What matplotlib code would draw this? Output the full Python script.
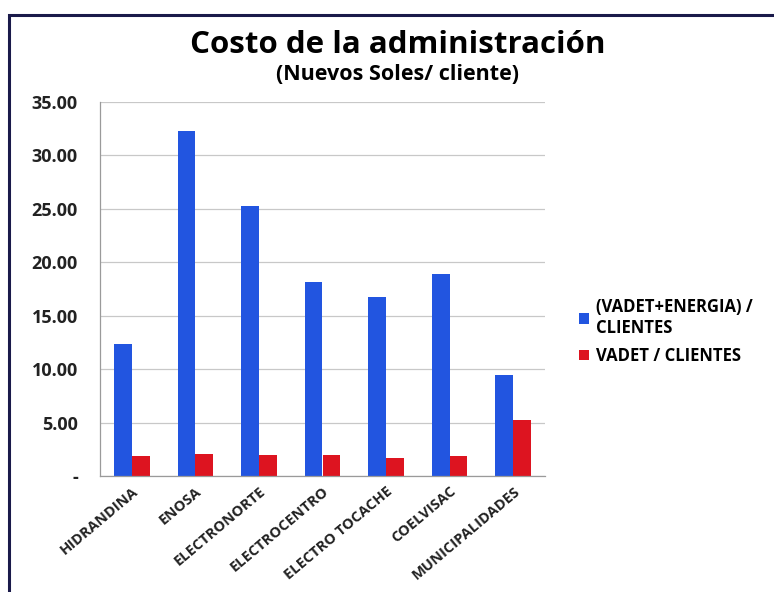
import numpy as np
import matplotlib
matplotlib.use("Agg")
from matplotlib import pyplot as plt
import matplotlib.patches as patches

empresas = ['HIDRANDINA', 'ENOSA', 'ELECTRONORTE', 'ELECTROCENTRO',
            'ELECTRO TOCACHE', 'COELVISAC', 'MUNICIPALIDADES']
vadet_energia = [12.35, 32.3, 25.3, 18.15, 16.75, 18.9, 9.45]
vadet = [1.85, 2.1, 2.0, 2.0, 1.7, 1.85, 5.2]
series_names = ['(VADET+ENERGIA) /\nCLIENTES', 'VADET / CLIENTES']
yticks = [0, 5, 10, 15, 20, 25, 30, 35]

plt.rcParams['font.family'] = ['Open Sans', 'DejaVu Sans']

fig = plt.figure(figsize=(7.74, 5.92), dpi=100)
ax = fig.add_axes([100/774, 1 - 476/592, 445/774, 374/592])

x = np.arange(len(empresas))
w = 0.28
b1 = ax.bar(x - w/2, vadet_energia, w, color='#2255e0', label=series_names[0])
b2 = ax.bar(x + w/2, vadet, w, color='#dd1420', label=series_names[1])

ax.set_xlim(-0.5, len(empresas) - 0.5)
ax.set_ylim(0, 35)
ax.set_yticks(yticks)
ax.set_yticklabels(['-'] + ['%.2f' % v for v in yticks[1:]],
                   fontsize=13, fontweight='bold', color='#222222')
ax.set_xticks(x)
ax.set_xticklabels(empresas, rotation=40, ha='right', rotation_mode='anchor',
                   fontsize=10.5, fontweight='bold', color='#222222')
ax.tick_params(axis='y', length=0, pad=16)
ax.tick_params(axis='x', length=0, pad=6)
ax.grid(axis='y', color='#c8c8c8', linewidth=0.9)
ax.set_axisbelow(True)
for s in ['top', 'right']:
    ax.spines[s].set_visible(False)
for s in ['left', 'bottom']:
    ax.spines[s].set_color('#9a9a9a')
    ax.spines[s].set_linewidth(0.9)

fig.text(398/774, 1 - 45/592, 'Costo de la administración', ha='center',
         va='center', fontsize=22.5, fontweight='bold', color='black')
fig.text(398/774, 1 - 74/592, '(Nuevos Soles/ cliente)', ha='center',
         va='center', fontsize=15.5, fontweight='bold', color='black')

fig.legend(handles=[b1, b2], loc='upper left', bbox_to_anchor=(564/774, 1 - 283/592),
           frameon=False, handlelength=0.6, handleheight=0.6,
           handletextpad=0.4, labelspacing=0.6, prop={'weight': 'bold', 'size': 12})

# dark frame of the original chart box
fig.add_artist(patches.Rectangle((9/774, -0.05), 1.0, 1 - 15/592 + 0.05,
                                 transform=fig.transFigure, fill=False,
                                 edgecolor='#1a1a4a', linewidth=2.2))

fig.savefig('out.png', dpi=100)
